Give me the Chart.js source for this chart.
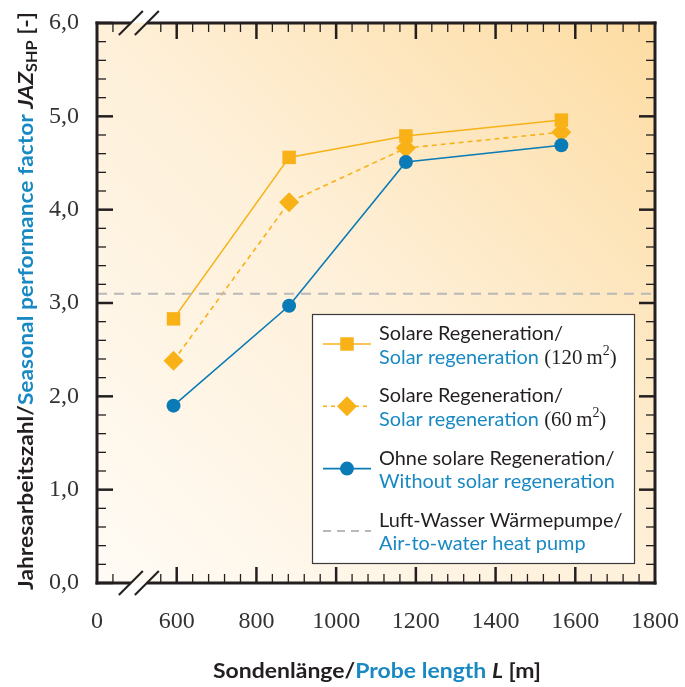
<!DOCTYPE html>
<html>
<head>
<meta charset="utf-8">
<script src="https://cdn.jsdelivr.net/npm/chart.js@4/dist/chart.umd.min.js"></script>
<style>
  body { margin: 0; background: #fff; }
  canvas { display: block; }
</style>
</head>
<body>
<canvas id="chart" width="685" height="687"></canvas>
<script>
// probe length L [m] and seasonal performance factor JAZ_SHP [-]
const lengths = [592, 882, 1175, 1565];
const solar120 = [2.83, 4.56, 4.79, 4.96];
const solar60 = [2.38, 4.08, 4.66, 4.83];
const noRegen = [1.90, 2.97, 4.51, 4.69];
const airWater = 3.10;

// x axis is broken: 400 on the scale is drawn as "0"
const xMin = 400, xMax = 1800;
const xTickLabels = ['0', '600', '800', '1000', '1200', '1400', '1600', '1800'];

const legendDe = ['Solare Regeneration/', 'Solare Regeneration/', 'Ohne solare Regeneration/', 'Luft-Wasser Wärmepumpe/'];
const legendEn = ['Solar regeneration', 'Solar regeneration', 'Without solar regeneration', 'Air-to-water heat pump'];
const legendArea = ['120', '60', null, null];

const ORANGE = '#f8b218';
const BLUE = '#0a7bb6';
const TEXT_BLUE = '#1989c3';
const DARK = '#231f20';
const GREY = '#b9b9b9';
const SANS = 'Lato';
const SERIF = "'Liberation Serif'";

const pts = ys => ys.map((y, i) => ({ x: lengths[i], y }));

function drawRuns(ctx, runs, x, y, sx) {
  ctx.save();
  ctx.translate(x, y);
  ctx.scale(sx, 1);
  ctx.textAlign = 'left';
  ctx.textBaseline = 'alphabetic';
  let cx = 0;
  for (const r of runs) {
    ctx.font = r.font;
    ctx.fillStyle = r.color || DARK;
    ctx.fillText(r.text, cx, r.dy || 0);
    cx += ctx.measureText(r.text).width;
  }
  ctx.restore();
}
function runsWidth(ctx, runs) {
  let w = 0;
  for (const r of runs) { ctx.font = r.font; w += ctx.measureText(r.text).width; }
  return w;
}

const background = {
  id: 'background',
  beforeDraw(chart) {
    const { ctx, chartArea: a } = chart;
    const g = ctx.createLinearGradient(a.right, a.top, a.left, a.bottom);
    g.addColorStop(0, '#fddca2');
    g.addColorStop(0.5, '#fef0d9');
    g.addColorStop(1, '#fffbf5');
    ctx.save();
    ctx.fillStyle = g;
    ctx.fillRect(a.left, a.top, a.right - a.left, a.bottom - a.top);
    ctx.restore();
  }
};

const frame = {
  id: 'frame',
  afterDatasetsDraw(chart) {
    const { ctx, chartArea: a, scales: { x, y } } = chart;
    const seg = (x1, y1, x2, y2) => { ctx.beginPath(); ctx.moveTo(x1, y1); ctx.lineTo(x2, y2); ctx.stroke(); };
    ctx.save();
    ctx.strokeStyle = DARK;
    // y ticks, inside, both sides
    for (let i = 0; i <= 30; i++) {
      const py = y.getPixelForValue(i * 0.2);
      const major = i % 5 === 0;
      ctx.lineWidth = major ? 2.5 : 1.3;
      const len = major ? 16 : 9;
      seg(a.left, py, a.left + len, py);
      seg(a.right, py, a.right - len, py);
    }
    // x ticks, inside, top and bottom
    const bx = x.getPixelForValue(505);
    for (let v = xMin + 40; v < xMax; v += 40) {
      const px = x.getPixelForValue(v);
      if (px > bx - 14 && px < bx + 14) continue;
      const major = v >= 600 && (v - 400) % 200 === 0;
      ctx.lineWidth = major ? 2.5 : 1.3;
      const len = major ? 16 : 9;
      seg(px, a.bottom, px, a.bottom - len);
      seg(px, a.top, px, a.top + len);
    }
    // frame with axis breaks
    ctx.lineWidth = 3;
    ctx.lineCap = 'square';
    seg(a.left, a.top, a.left, a.bottom);
    seg(a.right, a.top, a.right, a.bottom);
    ctx.lineCap = 'butt';
    for (const ay of [a.top, a.bottom]) {
      seg(a.left - 1.5, ay, bx - 8, ay);
      seg(bx + 8, ay, a.right + 1.5, ay);
      ctx.lineWidth = 2;
      seg(bx - 20, ay + 12, bx + 4, ay - 12);
      seg(bx - 4, ay + 12, bx + 20, ay - 12);
      ctx.lineWidth = 3;
    }
    ctx.restore();
  }
};

const legendBox = {
  id: 'legendBox',
  afterDraw(chart) {
    const ctx = chart.ctx;
    const bx = 312, by = 314, bw = 322, bh = 249;
    ctx.save();
    ctx.fillStyle = '#ffffff';
    ctx.fillRect(bx, by, bw, bh);
    ctx.strokeStyle = '#3a3a3a';
    ctx.lineWidth = 1.2;
    ctx.strokeRect(bx + 0.5, by + 0.5, bw, bh);

    const font = `20px ${SANS}`;
    ctx.font = font;
    const sx = 184 / ctx.measureText(legendDe[0]).width;
    const styles = [
      { color: ORANGE, dash: [], point: 'rect', r: 9.5 },
      { color: ORANGE, dash: [4, 4], point: 'rectRot', r: 10 },
      { color: BLUE, dash: [], point: 'circle', r: 7 },
      { color: GREY, dash: [8, 6], point: false, r: 0 }
    ];
    for (let i = 0; i < 4; i++) {
      const base = 340 + i * 62.3;
      const sy = base + 4;
      const st = styles[i];
      ctx.strokeStyle = st.color;
      ctx.lineWidth = i === 3 ? 2 : 1.6;
      ctx.setLineDash(st.dash);
      ctx.beginPath(); ctx.moveTo(323, sy); ctx.lineTo(371, sy); ctx.stroke();
      ctx.setLineDash([]);
      if (st.point) {
        ctx.fillStyle = st.color;
        ctx.strokeStyle = st.color;
        Chart.helpers.drawPoint(ctx, { pointStyle: st.point, radius: st.r, borderWidth: 0, rotation: 0 }, 347, sy);
      }
      drawRuns(ctx, [{ text: legendDe[i], font, color: DARK }], 379, base, sx);
      const en = [{ text: legendEn[i], font, color: TEXT_BLUE }];
      if (legendArea[i]) {
        const sf = `21px ${SERIF}`;
        en.push({ text: ' (' + legendArea[i] + '\u2009m', font: sf, color: DARK });
        en.push({ text: '2', font: `14px ${SERIF}`, color: DARK, dy: -9 });
        en.push({ text: ')', font: sf, color: DARK });
      }
      drawRuns(ctx, en, 379, base + 23.5, sx);
    }
    ctx.restore();
  }
};

const titles = {
  id: 'titles',
  afterDraw(chart) {
    const ctx = chart.ctx;
    const b = `bold 21px ${SANS}`, bi = `italic bold 21px ${SANS}`;
    const xRuns = [
      { text: 'Sondenlänge/', font: b, color: DARK },
      { text: 'Probe length', font: b, color: TEXT_BLUE },
      { text: ' ', font: b },
      { text: 'L', font: bi, color: DARK },
      { text: ' [m]', font: b, color: DARK }
    ];
    const xw = runsWidth(ctx, xRuns);
    drawRuns(ctx, xRuns, 213, 678, 328 / xw);

    const yRuns = [
      { text: 'Jahresarbeitszahl/', font: b, color: DARK },
      { text: 'Seasonal performance factor', font: b, color: TEXT_BLUE },
      { text: ' ', font: b },
      { text: 'JAZ', font: bi, color: DARK },
      { text: 'SHP', font: `bold 15px ${SANS}`, color: DARK, dy: 4 },
      { text: ' [-]', font: b, color: DARK }
    ];
    const yw = runsWidth(ctx, yRuns);
    ctx.save();
    ctx.translate(33, 590);
    ctx.rotate(-Math.PI / 2);
    drawRuns(ctx, yRuns, 0, 0, 578 / yw);
    ctx.restore();
  }
};

const noOverhang = s => { s.paddingLeft = 0; s.paddingRight = 0; s.paddingTop = 0; s.paddingBottom = 0; };

new Chart(document.getElementById('chart').getContext('2d'), {
  type: 'scatter',
  data: {
    datasets: [
      {
        label: 'Luft-Wasser Wärmepumpe',
        data: [{ x: xMin, y: airWater }, { x: xMax, y: airWater }],
        showLine: true, borderColor: GREY, borderWidth: 2, borderDash: [10, 7],
        pointRadius: 0
      },
      {
        label: 'Ohne solare Regeneration',
        data: pts(noRegen),
        showLine: true, borderColor: BLUE, borderWidth: 1.6,
        pointStyle: 'circle', pointRadius: 7, pointBackgroundColor: BLUE, pointBorderColor: BLUE, pointBorderWidth: 0
      },
      {
        label: 'Solare Regeneration (60 m²)',
        data: pts(solar60),
        showLine: true, borderColor: ORANGE, borderWidth: 1.6, borderDash: [5, 4],
        pointStyle: 'rectRot', pointRadius: 10, pointBackgroundColor: ORANGE, pointBorderColor: ORANGE, pointBorderWidth: 0
      },
      {
        label: 'Solare Regeneration (120 m²)',
        data: pts(solar120),
        showLine: true, borderColor: ORANGE, borderWidth: 1.6,
        pointStyle: 'rect', pointRadius: 9.5, pointBackgroundColor: ORANGE, pointBorderColor: ORANGE, pointBorderWidth: 0
      }
    ]
  },
  options: {
    responsive: false,
    animation: false,
    layout: { padding: { top: 23, right: 30, left: 0, bottom: 0 } },
    plugins: { legend: { display: false }, tooltip: { enabled: false } },
    scales: {
      x: {
        type: 'linear', min: xMin, max: xMax,
        afterFit: s => { s.height = 104; noOverhang(s); },
        afterBuildTicks: s => { s.ticks = xTickLabels.map((t, i) => ({ value: xMin + i * 200 })); },
        grid: { display: false, drawTicks: false },
        border: { display: false },
        ticks: {
          padding: 24,
          color: '#333',
          font: { family: 'Liberation Serif', size: 24 },
          callback: (v, i) => xTickLabels[i]
        }
      },
      y: {
        min: 0, max: 6,
        afterFit: s => { s.width = 97; noOverhang(s); },
        grid: { display: false, drawTicks: false },
        border: { display: false },
        ticks: {
          stepSize: 1,
          padding: 18,
          color: '#333',
          font: { family: 'Liberation Serif', size: 24 },
          callback: v => v.toFixed(1).replace('.', ',')
        }
      }
    }
  },
  plugins: [background, frame, legendBox, titles]
});
</script>
</body>
</html>
